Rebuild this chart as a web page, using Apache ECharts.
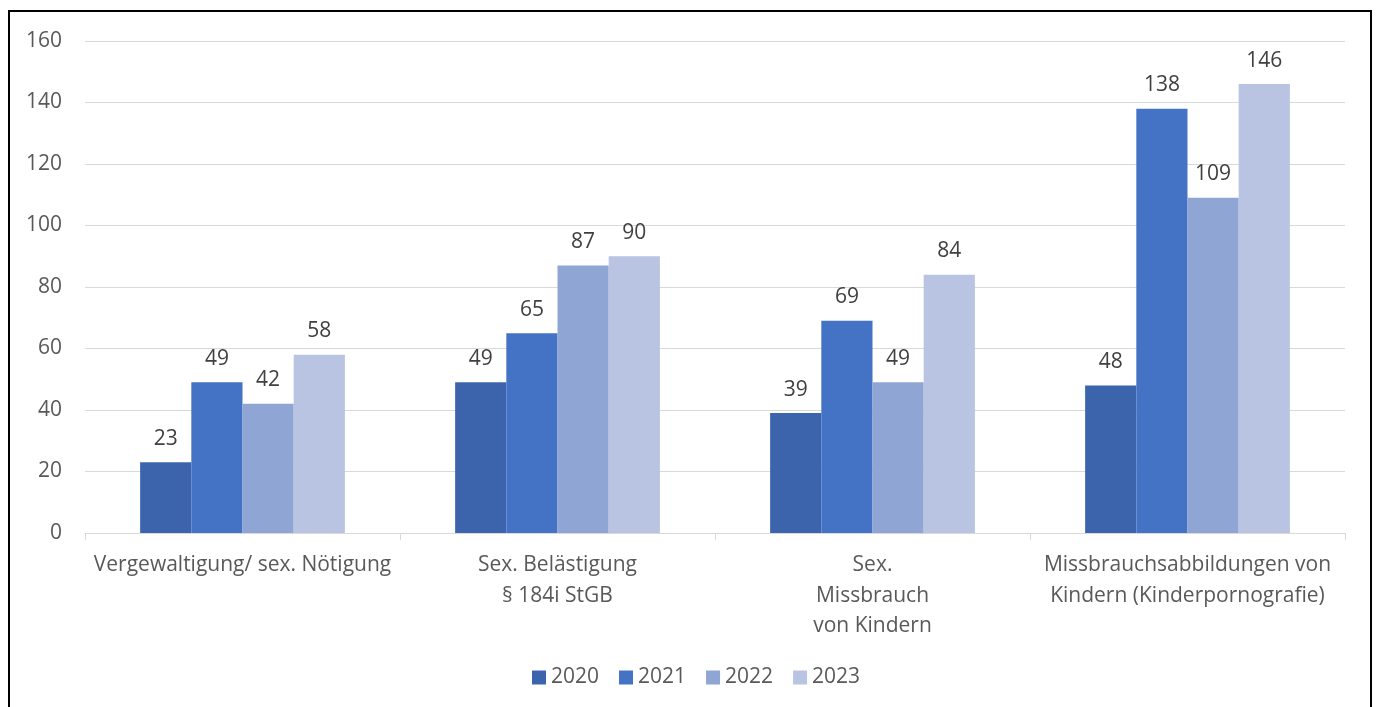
<!DOCTYPE html>
<html><head><meta charset="utf-8">
<script src="https://cdn.jsdelivr.net/npm/echarts@6/dist/echarts.min.js"></script>
<style>
html,body{margin:0;padding:0;background:#fff;}
#frame{position:absolute;left:8px;top:10px;width:1364px;height:720px;border:2px solid #000;box-sizing:border-box;}
#c{position:absolute;left:0;top:0;width:1378px;height:707px;}
</style></head>
<body>
<div id="frame"></div>
<div id="c"></div>
<script>
const categories = ["Vergewaltigung/ sex. Nötigung", "Sex. Belästigung\n§ 184i StGB", "Sex.\nMissbrauch\nvon Kindern", "Missbrauchsabbildungen von\nKindern (Kinderpornografie)"];
const years = ["2020", "2021", "2022", "2023"];
const v2020 = [23, 49, 39, 48];
const v2021 = [49, 65, 69, 138];
const v2022 = [42, 87, 49, 109];
const v2023 = [58, 90, 84, 146];
const yTicks = [0, 20, 40, 60, 80, 100, 120, 140, 160];

const colors = ["#3B64AD", "#4472C4", "#8FA5D4", "#B9C3E2"];
const values = [v2020, v2021, v2022, v2023];
const font = "'Open Sans', Lato, sans-serif";

const chart = echarts.init(document.getElementById('c'));
chart.setOption({
  animation: false,
  textStyle: {fontFamily: font},
  grid: {left: 85, right: 33, top: 41, bottom: 174, containLabel: false},
  legend: {
    bottom: 14, left: 527,
    itemWidth: 14, itemHeight: 14, itemGap: 20,
    icon: 'rect',
    textStyle: {fontSize: 21, color: '#595959', fontFamily: font},
    data: years
  },
  xAxis: {
    type: 'category', data: categories,
    axisLine: {lineStyle: {color: '#d9d9d9', width: 1}},
    axisTick: {show: true, length: 7, lineStyle: {color: '#d9d9d9'}},
    axisLabel: {fontSize: 21, color: '#595959', lineHeight: 30.5, margin: 17, interval: 0, fontFamily: font}
  },
  yAxis: {
    type: 'value', min: yTicks[0], max: yTicks[yTicks.length - 1], interval: 20,
    axisLine: {show: false}, axisTick: {show: false},
    splitLine: {lineStyle: {color: '#d9d9d9', width: 1}},
    axisLabel: {fontSize: 21, color: '#595959', margin: 23, fontFamily: font}
  },
  series: years.map((y, i) => ({
    name: y, type: 'bar', data: values[i],
    barGap: '0%', barCategoryGap: '35%',
    itemStyle: {color: colors[i]},
    label: {show: true, position: 'top', distance: 13, fontSize: 21, color: '#404040', fontFamily: font}
  }))
});
</script>
</body></html>
